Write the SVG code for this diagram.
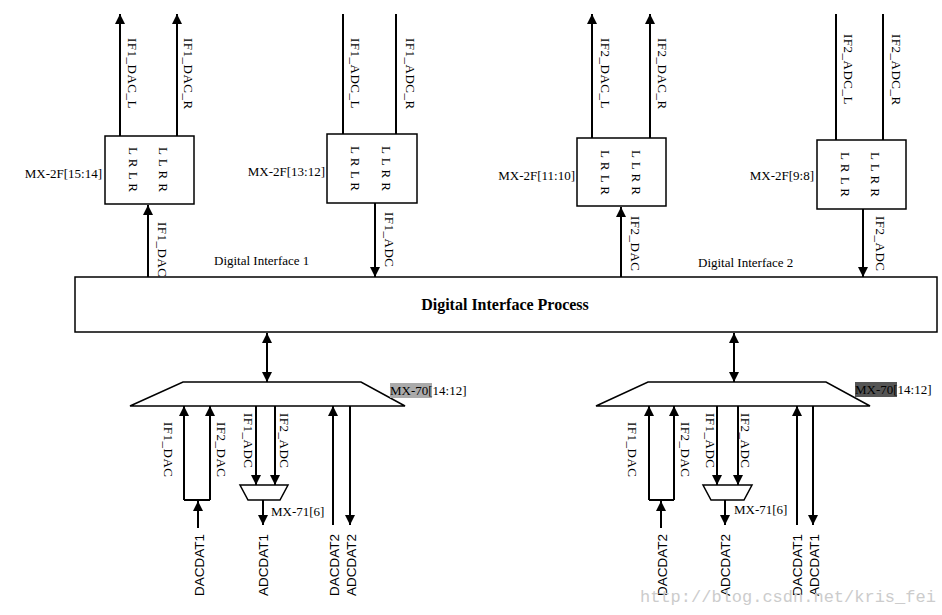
<svg xmlns="http://www.w3.org/2000/svg" width="942" height="615" viewBox="0 0 942 615">
<defs>
<marker id="ah" viewBox="0 0 10 10" refX="10" refY="5" markerWidth="10" markerHeight="10" markerUnits="userSpaceOnUse" orient="auto-start-reverse"><path d="M0,0 L10,5 L0,10 z" fill="#000"/></marker>
<style>
.ln{stroke:#000;stroke-width:2;fill:none}
.bx{stroke:#000;stroke-width:1.5;fill:#fff}
.s{font-family:'Liberation Serif','DejaVu Serif','Times New Roman',serif;font-size:13px;fill:#000}
.v{font-family:'Liberation Serif','DejaVu Serif','Times New Roman',serif;font-size:13px;fill:#000;writing-mode:tb;letter-spacing:0.5px}
.b{font-family:'Liberation Sans',Arial,sans-serif;font-size:13.5px;fill:#000}
</style>
</defs>
<rect width="942" height="615" fill="#fff"/>
<g id="connectors">
<line class="ln" x1="120" y1="136" x2="120" y2="14" marker-end="url(#ah)"/>
<line class="ln" x1="177" y1="136" x2="177" y2="14" marker-end="url(#ah)"/>
<line class="ln" x1="343" y1="134" x2="343" y2="14"/>
<line class="ln" x1="396" y1="134" x2="396" y2="14"/>
<line class="ln" x1="592" y1="138" x2="592" y2="14" marker-end="url(#ah)"/>
<line class="ln" x1="650" y1="138" x2="650" y2="14" marker-end="url(#ah)"/>
<line class="ln" x1="836" y1="140" x2="836" y2="14"/>
<line class="ln" x1="883" y1="140" x2="883" y2="14"/>
<line class="ln" x1="148" y1="277" x2="148" y2="205" marker-end="url(#ah)"/>
<line class="ln" x1="375" y1="203" x2="375" y2="277" marker-end="url(#ah)"/>
<line class="ln" x1="621" y1="277" x2="621" y2="207" marker-end="url(#ah)"/>
<line class="ln" x1="863" y1="209" x2="863" y2="277" marker-end="url(#ah)"/>
<line class="ln" x1="267" y1="333" x2="267" y2="382" marker-start="url(#ah)" marker-end="url(#ah)"/>
<line class="ln" x1="734" y1="333" x2="734" y2="382" marker-start="url(#ah)" marker-end="url(#ah)"/>
<path class="ln" d="M184,500 L184,406" marker-end="url(#ah)"/>
<path class="ln" d="M210,500 L210,406" marker-end="url(#ah)"/>
<path class="ln" d="M184,500 L210,500"/>
<line class="ln" x1="198" y1="528" x2="198" y2="501" marker-end="url(#ah)"/>
<line class="ln" x1="256" y1="406" x2="256" y2="485" marker-end="url(#ah)"/>
<line class="ln" x1="275" y1="406" x2="275" y2="485" marker-end="url(#ah)"/>
<line class="ln" x1="263" y1="500" x2="263" y2="525" marker-end="url(#ah)"/>
<line class="ln" x1="333" y1="525" x2="333" y2="406" marker-end="url(#ah)"/>
<line class="ln" x1="350" y1="406" x2="350" y2="525" marker-end="url(#ah)"/>
<path class="ln" d="M649,500 L649,406" marker-end="url(#ah)"/>
<path class="ln" d="M674,500 L674,406" marker-end="url(#ah)"/>
<path class="ln" d="M649,500 L674,500"/>
<line class="ln" x1="661" y1="528" x2="661" y2="501" marker-end="url(#ah)"/>
<line class="ln" x1="717" y1="406" x2="717" y2="485" marker-end="url(#ah)"/>
<line class="ln" x1="738" y1="406" x2="738" y2="485" marker-end="url(#ah)"/>
<line class="ln" x1="725" y1="500" x2="725" y2="525" marker-end="url(#ah)"/>
<line class="ln" x1="797" y1="525" x2="797" y2="406" marker-end="url(#ah)"/>
<line class="ln" x1="813" y1="406" x2="813" y2="525" marker-end="url(#ah)"/>
</g>
<g id="n-mx2f-1514"><rect class="bx" x="105" y="136" width="89" height="68"/>
<text class="v" x="133" y="147">L R L R</text><text class="v" x="163" y="147">L L R R</text>
<text class="s" x="102" y="178" text-anchor="end">MX-2F[15:14]</text></g>
<g id="n-mx2f-1312"><rect class="bx" x="327" y="134" width="90" height="69"/>
<text class="v" x="355" y="146">L R L R</text><text class="v" x="386" y="146">L L R R</text>
<text class="s" x="325" y="176" text-anchor="end">MX-2F[13:12]</text></g>
<g id="n-mx2f-1110"><rect class="bx" x="577" y="138" width="89" height="68"/>
<text class="v" x="605" y="150">L R L R</text><text class="v" x="636" y="150">L L R R</text>
<text class="s" x="575" y="180" text-anchor="end">MX-2F[11:10]</text></g>
<g id="n-mx2f-98"><rect class="bx" x="817" y="140" width="89" height="69"/>
<text class="v" x="845" y="152">L R L R</text><text class="v" x="875" y="152">L L R R</text>
<text class="s" x="814" y="180" text-anchor="end">MX-2F[9:8]</text></g>
<g id="labels-top">
<text class="v" x="132" y="38">IF1_DAC_L</text><text class="v" x="188" y="38">IF1_DAC_R</text>
<text class="v" x="355" y="38">IF1_ADC_L</text><text class="v" x="410" y="38">IF1_ADC_R</text>
<text class="v" x="605" y="38">IF2_DAC_L</text><text class="v" x="662" y="38">IF2_DAC_R</text>
<text class="v" x="848" y="34">IF2_ADC_L</text><text class="v" x="896" y="34">IF2_ADC_R</text>
<text class="v" x="162" y="222">IF1_DAC</text><text class="v" x="389" y="212">IF1_ADC</text>
<text class="v" x="635" y="216">IF2_DAC</text><text class="v" x="880" y="216">IF2_ADC</text>
<text class="s" x="214" y="265">Digital Interface 1</text>
<text class="s" x="698" y="267">Digital Interface 2</text>
</g>
<g id="n-dip"><rect class="bx" x="75" y="277" width="862" height="55"/>
<text x="505" y="310" text-anchor="middle" style="font-family:'Liberation Serif','DejaVu Serif',serif;font-size:16px;font-weight:bold">Digital Interface Process</text></g>
<g id="n-mx70-left"><path class="bx" d="M183,382 L361,382 L405,406 L130,406 Z"/>
<rect x="390" y="383" width="42" height="15" fill="#aaa"/>
<text class="s" x="390" y="395">MX-70[14:12]</text></g>
<g id="n-mx70-right"><path class="bx" d="M648,382 L826,382 L870,406 L596,406 Z"/>
<rect x="855" y="382" width="42" height="15" fill="#555"/>
<text class="s" x="855" y="394">MX-70[14:12]</text></g>
<g id="n-mx71-left"><path class="bx" d="M240,485 L288,485 L280,500 L248,500 Z"/>
<text class="s" x="271" y="516">MX-71[6]</text></g>
<g id="n-mx71-right"><path class="bx" d="M703,485 L752,485 L744,500 L711,500 Z"/>
<text class="s" x="734" y="514">MX-71[6]</text></g>
<g id="labels-bottom">
<text class="v" x="168" y="422">IF1_DAC</text>
<text class="v" x="221" y="422">IF2_DAC</text>
<text class="v" x="248" y="413">IF1_ADC</text>
<text class="v" x="284" y="413">IF2_ADC</text>
<text class="v" x="632" y="422">IF1_DAC</text>
<text class="v" x="685" y="422">IF2_DAC</text>
<text class="v" x="710" y="413">IF1_ADC</text>
<text class="v" x="745" y="413">IF2_ADC</text>
<text class="b" transform="translate(204,596) rotate(-90)">DACDAT1</text>
<text class="b" transform="translate(268,596) rotate(-90)">ADCDAT1</text>
<text class="b" transform="translate(339,596) rotate(-90)">DACDAT2</text>
<text class="b" transform="translate(356,596) rotate(-90)">ADCDAT2</text>
<text class="b" transform="translate(667,596) rotate(-90)">DACDAT2</text>
<text class="b" transform="translate(730,596) rotate(-90)">ADCDAT2</text>
<text class="b" transform="translate(802,596) rotate(-90)">DACDAT1</text>
<text class="b" transform="translate(819,596) rotate(-90)">ADCDAT1</text>
</g>
<text x="640" y="602" style="font-family:'Liberation Mono',monospace;font-size:17px;fill:#ccc">http://blog.csdn.net/kris_fei</text>
</svg>
